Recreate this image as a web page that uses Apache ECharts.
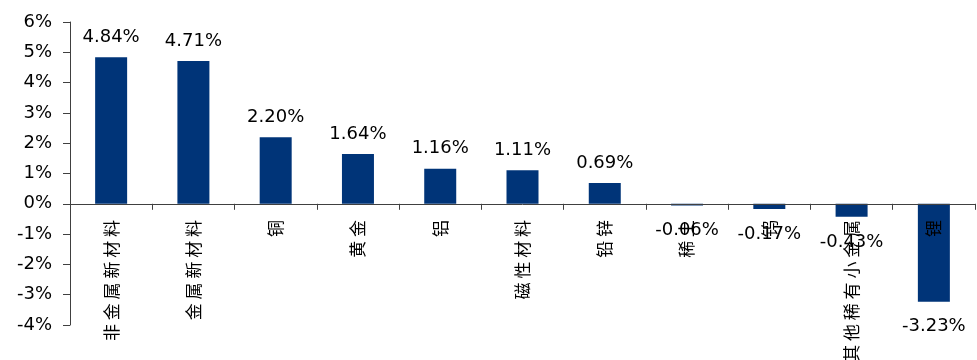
<!DOCTYPE html>
<html><head><meta charset="utf-8">
<script src="https://cdn.jsdelivr.net/npm/echarts@6/dist/echarts.min.js"></script>
<style>html,body{margin:0;padding:0;background:#fff}#c{width:977px;height:360px}</style>
</head><body><div id="c"></div>
<script>
var categories = ['非金属新材料','金属新材料','铜','黄金','铝','磁性材料','铅锌','稀土','钨','其他稀有小金属','锂'];
var values = [4.84, 4.71, 2.20, 1.64, 1.16, 1.11, 0.69, -0.06, -0.17, -0.43, -3.23];
var yTicks = [-4, -3, -2, -1, 0, 1, 2, 3, 4, 5, 6];

var chart = echarts.init(document.getElementById('c'));
var numFont = 'DejaVu Sans';
var axisColor = '#404040';
chart.setOption({
  animation: false,
  grid: {left: 70, right: 2, top: 22, bottom: 35, containLabel: false, outerBoundsMode: 'none'},
  xAxis: {
    type: 'category', data: categories, z: 5,
    axisLine: {onZero: true, lineStyle: {color: axisColor, width: 1}},
    axisTick: {show: true, length: 6, lineStyle: {color: axisColor}},
    axisLabel: {
      rotate: 90, margin: -105, interval: 0, color: '#000',
      fontFamily: 'Noto Sans CJK SC', fontSize: 17, hideOverlap: false,
      formatter: function (v) { return v.split('').join(' '); }
    }
  },
  yAxis: {
    type: 'value', min: yTicks[0], max: yTicks[yTicks.length - 1], interval: 1,
    axisLine: {show: true, lineStyle: {color: axisColor}},
    axisTick: {show: true, length: 7, lineStyle: {color: axisColor}},
    splitLine: {show: false},
    axisLabel: {margin: 18, color: '#000', fontFamily: numFont, fontSize: 18,
      formatter: function (v) { return v + '%'; }}
  },
  series: [{
    type: 'bar', barWidth: 32,
    itemStyle: {color: '#003478'},
    data: values.map(function (v) {
      return {value: v, label: {show: true,
        position: v >= 0 ? 'top' : 'bottom',
        distance: v >= 0 ? 11 : 16,
        color: '#000', fontFamily: numFont, fontSize: 18,
        formatter: function (p) { return p.value.toFixed(2) + '%'; }}};
    })
  }]
});
</script></body></html>
